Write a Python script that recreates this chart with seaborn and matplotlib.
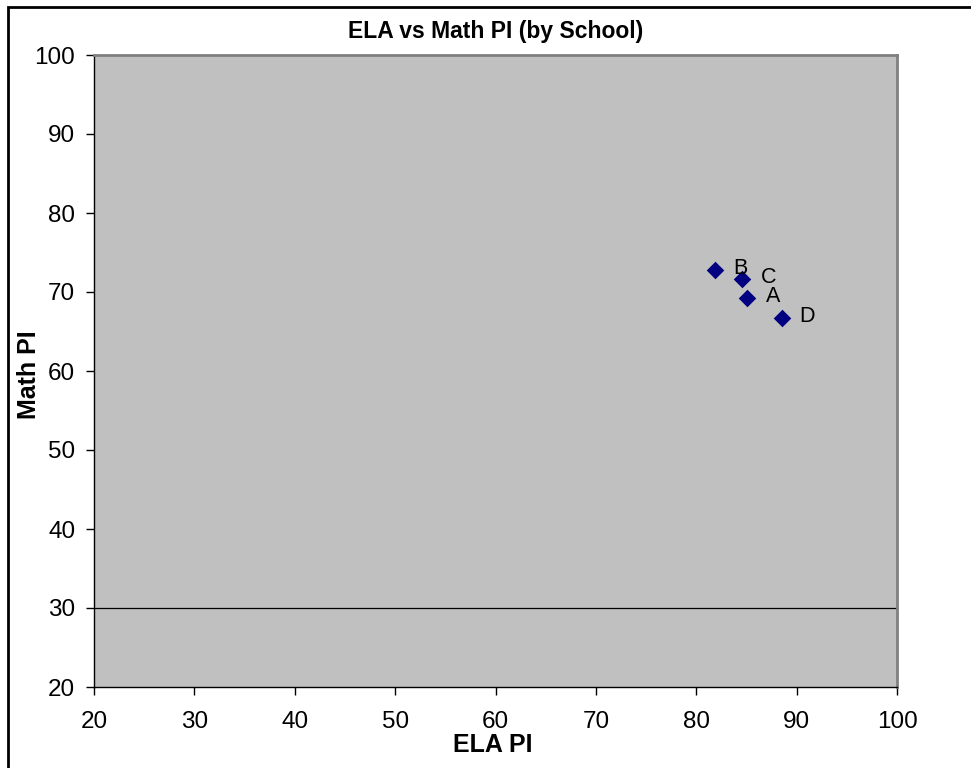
import matplotlib
matplotlib.use("Agg")
import matplotlib.pyplot as plt
from matplotlib.patches import Rectangle
import seaborn as sns
import pandas as pd

# Data
schools = ["A", "B", "C", "D"]
ela_pi = [85.1, 81.9, 84.6, 88.5]
math_pi = [69.3, 72.8, 71.7, 66.7]
x_ticks = [20, 30, 40, 50, 60, 70, 80, 90, 100]
y_ticks = [20, 30, 40, 50, 60, 70, 80, 90, 100]

df = pd.DataFrame({"School": schools, "ELA PI": ela_pi, "Math PI": math_pi})

sns.set_theme(style="white")
plt.rcParams['font.family'] = ['Liberation Sans', 'DejaVu Sans']
plt.rcParams['text.color'] = 'black'
plt.rcParams['axes.labelcolor'] = 'black'

fig = plt.figure(figsize=(9.71, 7.68), dpi=100)
fig.patch.set_facecolor("white")
ax = fig.add_axes([94/971, 1-687/768, (897-94)/971, (687-55)/768])
ax.set_facecolor("#C0C0C0")

ax.axhline(30, color="black", lw=0.9, zorder=1)

sns.scatterplot(data=df, x="ELA PI", y="Math PI", marker="D", s=80,
                color="#000080", edgecolor="#000080", linewidth=0, ax=ax, zorder=3)

for name, xv, yv in zip(df["School"], df["ELA PI"], df["Math PI"]):
    ax.annotate(name, (xv, yv), xytext=(13, 1), textcoords="offset points",
                ha="left", va="center", fontsize=15.5, color="black")

ax.set_xlim(20, 100)
ax.set_ylim(20, 100)
ax.set_xticks(x_ticks)
ax.set_yticks(y_ticks)
ax.tick_params(axis="both", which="major", direction="out", length=5.5, width=1,
               color="black", labelsize=17.5, labelcolor="black",
               bottom=True, left=True)
ax.tick_params(axis="x", pad=12)
ax.tick_params(axis="y", pad=8)

for side in ["top", "right"]:
    ax.spines[side].set_color("#808080")
    ax.spines[side].set_linewidth(2)
for side in ["left", "bottom"]:
    ax.spines[side].set_color("black")
    ax.spines[side].set_linewidth(1)

ax.set_xlabel("ELA PI", fontsize=18, fontweight="bold", color="black")
ax.set_ylabel("Math PI", fontsize=18, fontweight="bold", color="black")
ax.xaxis.set_label_coords(0.496, -0.073)
ax.yaxis.set_label_coords(-0.066, 0.494)
ax.set_title("ELA vs Math PI (by School)", fontsize=16.5, fontweight="bold",
             color="black", pad=12)

fig.patches.append(Rectangle((8/971, -0.2), 1.2, 1-7/768+0.2, transform=fig.transFigure,
                             fill=False, edgecolor="black", linewidth=2))

fig.savefig("out.png", dpi=100)
